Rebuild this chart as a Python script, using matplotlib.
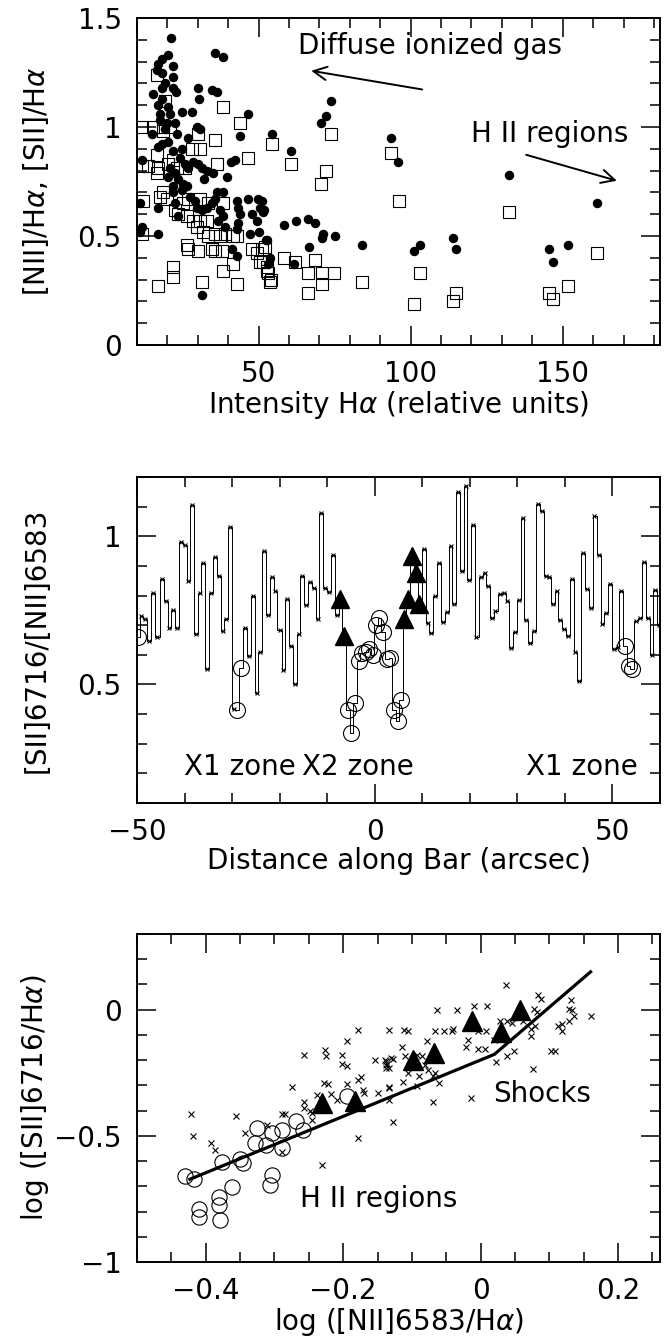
import matplotlib
matplotlib.use("Agg")
import matplotlib.pyplot as plt
from matplotlib.ticker import MultipleLocator, FixedLocator, FuncFormatter

plt.rcParams['font.family'] = ['DejaVu Sans']
plt.rcParams['mathtext.fontset'] = 'dejavusans'

# ---------------- Panel 1 data ----------------
nii_x = [21.2, 35.7, 38.4, 20.3, 18.1, 17.0, 21.9, 16.5, 18.2, 21.8,
         19.2, 18.1, 21.9, 22.8, 15.4, 18.2, 30.2, 30.3, 34.6, 36.4,
         17.0, 20.3, 17.6, 20.9, 24.7, 28.0, 46.6,
         17.6, 19.8, 22.5, 19.2, 23.0, 14.8, 29.6, 30.7, 43.9, 54.3, 26.9,
         20.3, 18.1, 17.0, 21.9, 24.7, 11.5,
         24.1, 25.8, 26.9, 28.5, 30.2, 31.3, 32.9, 34.9, 39.5, 40.8, 42.2, 32.0,
         20.9, 22.5, 20.3, 23.6, 25.2, 21.9, 24.7, 26.3,
         11.0, 17.0, 21.9, 22.5, 23.6,
         27.4, 29.1, 29.8, 31.3, 32.9, 34.6, 35.7, 36.2, 38.4,
         37.3, 38.2, 36.7, 38.9,
         42.8, 43.3, 43.9, 43.3, 42.8,
         46.6, 49.9, 50.5, 47.7, 49.6, 51.5,
         47.2, 50.2, 52.7,
         11.5, 11.0, 17.0,
         41.1, 42.8, 53.8, 53.2, 31.3,
         73.8, 72.1, 70.4, 60.5, 93.4, 95.7, 132.2, 161.4,
         51.0, 51.8, 58.5, 62.3, 66.2, 68.6, 71.1, 70.8, 75.1, 66.6, 84.1, 52.4, 61.6,
         103.1, 101.1, 114.0, 114.8, 145.6, 146.9, 151.8]
nii_y = [1.41, 1.34, 1.32, 1.33, 1.31, 1.29, 1.28, 1.26, 1.25, 1.23,
         1.20, 1.18, 1.18, 1.16, 1.15, 1.13, 1.18, 1.13, 1.17, 1.16,
         1.10, 1.09, 1.06, 1.06, 1.07, 1.07, 1.06,
         1.03, 1.02, 1.02, 0.99, 0.97, 0.97, 1.00, 0.99, 0.96, 0.97, 0.95,
         0.93, 0.92, 0.91, 0.89, 0.90, 0.85,
         0.86, 0.83, 0.81, 0.84, 0.83, 0.81, 0.80, 0.79, 0.77, 0.84, 0.85, 0.76,
         0.81, 0.79, 0.77, 0.76, 0.74, 0.73, 0.71, 0.73,
         0.65, 0.63, 0.70, 0.65, 0.59,
         0.68, 0.66, 0.63, 0.62, 0.63, 0.65, 0.67, 0.70, 0.70,
         0.62, 0.59, 0.57, 0.54,
         0.66, 0.63, 0.60, 0.56, 0.53,
         0.67, 0.67, 0.63, 0.60, 0.57, 0.61,
         0.51, 0.52, 0.48,
         0.54, 0.52, 0.51,
         0.44, 0.41, 0.40, 0.37, 0.23,
         1.12, 1.05, 1.02, 0.89, 0.95, 0.84, 0.78, 0.65,
         0.66, 0.62, 0.55, 0.57, 0.58, 0.56, 0.51, 0.49, 0.50, 0.45, 0.46, 0.48, 0.37,
         0.46, 0.43, 0.49, 0.44, 0.44, 0.38, 0.46]

sii_x = [16.5, 38.2, 43.9, 19.2, 11.5, 15.4, 18.7, 20.9, 18.7, 35.7, 30.2, 28.0, 30.7, 46.6, 36.2,
         16.5, 13.7, 17.0, 16.5, 21.9, 20.3, 23.0, 25.8, 11.5,
         18.7, 17.6, 12.1, 19.8,
         22.5, 23.6, 25.2, 26.9, 30.7, 33.5, 38.4,
         26.3, 28.5, 30.7, 32.9, 29.6, 31.8, 33.5, 35.7, 37.3, 38.9,
         26.3, 26.9, 30.2, 34.6, 35.7, 37.8,
         41.6, 42.8, 41.6, 38.4,
         47.7, 49.4, 51.0, 50.5, 52.7, 53.2, 54.0,
         21.9, 21.9, 17.0, 31.5, 43.0, 11.5,
         73.8, 54.3, 60.5, 72.1, 70.4, 93.4, 96.0, 132.2, 161.4,
         58.5, 62.0, 68.6, 66.4, 70.9, 74.9, 70.9, 66.2, 84.1, 103.1, 101.1, 114.8, 114.0,
         145.6, 146.9, 151.8,
         52.0, 51.4, 52.7, 53.8]
sii_y = [1.24, 1.09, 1.02, 1.12, 1.00, 1.00, 1.00, 1.00, 0.98, 0.94, 0.97, 0.90, 0.90, 0.86, 0.83,
         0.87, 0.82, 0.81, 0.79, 0.85, 0.83, 0.81, 0.81, 0.82,
         0.70, 0.68, 0.66, 0.67,
         0.62, 0.60, 0.65, 0.67, 0.67, 0.65, 0.65,
         0.59, 0.57, 0.57, 0.57, 0.54, 0.52, 0.50, 0.51, 0.50, 0.51,
         0.46, 0.44, 0.43, 0.44, 0.43, 0.43,
         0.50, 0.50, 0.37, 0.34,
         0.44, 0.42, 0.44, 0.38, 0.36, 0.33, 0.30,
         0.36, 0.31, 0.27, 0.29, 0.28, 0.51,
         0.97, 0.92, 0.83, 0.80, 0.74, 0.88, 0.66, 0.61, 0.42,
         0.40, 0.38, 0.39, 0.33, 0.33, 0.33, 0.28, 0.24, 0.29, 0.33, 0.19, 0.24, 0.20,
         0.24, 0.21, 0.27,
         0.45, 0.38, 0.34, 0.29]

# ---------------- Panel 2 data ----------------
bar_dist = [-49.8, -49.1, -48.3, -47.5, -46.6, -45.7, -44.8, -43.9, -43.2, -42.4,
            -41.5, -40.8, -39.9, -39.2, -38.4, -37.6, -36.8, -36.1, -35.3, -34.5,
            -33.6, -32.7, -32.0, -31.2, -30.4, -29.7, -28.9, -28.1, -27.2, -26.4,
            -25.6, -24.8, -24.1, -23.3, -22.5, -21.6, -20.9, -20.0, -19.2, -18.4,
            -17.6, -16.7, -16.0, -15.3, -14.4, -13.6, -12.7, -12.0, -11.3, -10.4,
            -9.7, -8.8, -8.0, -7.2, -6.5, -5.7, -4.9, -4.2, -3.4, -2.6,
            -1.9, -1.1, -0.4, 0.3, 1.0, 1.7, 2.5, 3.3, 4.1, 4.8,
            5.5, 6.2, 7.0, 7.8, 8.6, 9.4, 10.4, 11.1, 11.9, 12.7,
            13.5, 14.4, 15.1, 16.0, 16.7, 17.5, 18.3, 19.1, 19.8, 20.7,
            21.4, 22.3, 23.1, 23.9, 24.7, 25.4, 26.3, 27.2, 27.9, 28.7,
            29.5, 30.3, 31.1, 31.9, 32.7, 33.6, 34.4, 35.2, 36.0, 36.7,
            37.5, 38.3, 39.0, 39.9, 40.6, 41.5, 42.2, 43.0, 43.9, 44.6,
            45.5, 46.2, 47.1, 47.9, 48.7, 49.5, 50.4, 51.1, 51.8, 52.7,
            53.4, 54.1, 55.0, 55.8, 56.6, 57.4, 58.3, 58.9, 59.7]
bar_ratio = [0.66, 0.73, 0.72, 0.646, 0.81, 0.66, 0.855, 0.78, 0.69, 0.75,
             0.69, 0.98, 0.97, 0.85, 1.106, 0.67, 0.81, 0.91, 0.553, 0.81,
             0.93, 0.866, 0.68, 0.72, 1.03, 0.418, 0.413, 0.556, 0.69, 0.596,
             0.80, 0.47, 0.61, 0.95, 0.733, 0.864, 0.815, 0.684, 0.55, 0.79,
             0.63, 0.50, 0.67, 0.866, 0.767, 0.846, 0.827, 0.72, 1.078, 0.825,
             0.812, 0.937, 0.736, 0.787, 0.663, 0.413, 0.337, 0.438, 0.58, 0.607,
             0.61, 0.618, 0.60, 0.70, 0.725, 0.677, 0.585, 0.59, 0.413, 0.378,
             0.447, 0.72, 0.79, 0.934, 0.877, 0.77, 0.956, 0.708, 0.672, 0.80,
             0.909, 0.71, 0.744, 0.967, 0.77, 1.15, 0.883, 1.168, 0.852, 1.037,
             0.661, 0.864, 0.875, 0.832, 0.725, 0.748, 0.804, 0.807, 0.78, 0.624,
             0.677, 0.784, 1.063, 0.716, 0.639, 0.68, 1.108, 1.086, 0.866, 0.864,
             0.77, 0.815, 0.717, 0.688, 0.663, 0.857, 0.609, 0.511, 0.945, 0.821,
             0.759, 1.07, 0.936, 0.703, 0.74, 0.838, 0.62, 0.625, 0.815, 0.63,
             0.562, 0.553, 0.714, 0.725, 0.913, 0.725, 0.60, 0.82, 0.70]
bar_class = (['HII'] + ['X'] * 25 + ['HII', 'HII'] + ['X'] * 25 + ['shock'] * 2 +
             ['HII'] * 16 + ['shock'] * 5 + ['X'] * 53 + ['HII'] * 3 + ['X'] * 7)

# ---------------- Panel 3 data ----------------
all_n2 = [-0.422, -0.418, -0.393, -0.386, -0.356, -0.343, -0.311, -0.289, -0.289, -0.284,
          -0.275, -0.257, -0.257, -0.257, -0.248, -0.245, -0.246, -0.238, -0.231, -0.226,
          -0.225, -0.228, -0.222, -0.217, -0.209, -0.202, -0.201, -0.195, -0.195, -0.179,
          -0.195, -0.179, -0.174, -0.179, -0.171, -0.169, -0.154, -0.149, -0.139, -0.137,
          -0.137, -0.133, -0.128, -0.133, -0.128, -0.133,
          0.037, 0.084, 0.088, 0.132, 0.128, 0.133, 0.136, 0.128, 0.118, 0.113,
          0.118, 0.160, 0.103, 0.108, 0.076, 0.074, 0.074, 0.079, 0.077, 0.082,
          0.062, 0.045, 0.038, 0.028, 0.048, 0.038, 0.022, 0.009, -0.010, -0.035,
          -0.063, 0.019, 0.008, 0.006, -0.004, -0.004, -0.019, -0.021, -0.042, -0.040,
          -0.053, -0.066, -0.105, -0.112, -0.078, -0.115, -0.110, -0.137, -0.136, -0.133,
          -0.130, -0.093, -0.086, -0.081, -0.076, -0.066, -0.061, -0.069, -0.105, -0.089,
          -0.113, -0.093, -0.134, -0.069, -0.014]
all_s2 = [-0.413, -0.499, -0.529, -0.556, -0.423, -0.487, -0.456, -0.566, -0.414, -0.414,
          -0.308, -0.179, -0.366, -0.390, -0.403, -0.410, -0.437, -0.337, -0.615, -0.161,
          -0.185, -0.291, -0.294, -0.333, -0.357, -0.179, -0.214, -0.222, -0.123, -0.079,
          -0.294, -0.278, -0.267, -0.509, -0.317, -0.331, -0.198, -0.331, -0.198, -0.218,
          -0.232, -0.079, -0.196, -0.311, -0.446, -0.357,
          0.096, 0.060, 0.044, 0.037, 0.004, 0.000, -0.024, -0.046, -0.055, -0.063,
          -0.086, -0.026, -0.163, -0.163, -0.234, -0.077, -0.106, -0.063, 0.003, -0.011,
          -0.046, -0.052, -0.046, -0.046, -0.163, -0.185, -0.208, 0.016, 0.013, 0.000,
          -0.002, -0.119, -0.086, -0.156, -0.156, -0.086, -0.119, -0.146, -0.083, -0.077,
          -0.086, -0.086, -0.086, -0.079, -0.126, -0.146, -0.183, -0.204, -0.214, -0.231,
          -0.192, -0.179, -0.185, -0.218, -0.238, -0.251, -0.291, -0.262, -0.251, -0.262,
          -0.285, -0.304, -0.308, -0.366, -0.351]

hii_n2 = [-0.430, -0.417, -0.410, -0.410, -0.381, -0.381, -0.379, -0.362, -0.377, -0.350,
          -0.346, -0.328, -0.326, -0.312, -0.304, -0.289, -0.289, -0.304, -0.306, -0.268,
          -0.259, -0.195]
hii_s2 = [-0.661, -0.672, -0.791, -0.823, -0.741, -0.774, -0.833, -0.704, -0.602, -0.593,
          -0.606, -0.529, -0.470, -0.536, -0.489, -0.476, -0.549, -0.655, -0.694, -0.443,
          -0.476, -0.344]

shock_n2 = [-0.231, -0.183, -0.099, -0.068, -0.013, 0.030, 0.0575]
shock_s2 = [-0.370, -0.360, -0.201, -0.172, -0.044, -0.090, -0.003]

limit_n2 = [-0.423, 0.020, 0.160]
limit_s2 = [-0.672, -0.177, 0.150]

# ---------------- Figure ----------------
W, H = 666, 1344
fig = plt.figure(figsize=(W / 100, H / 100), dpi=100)

def axes_px(left, top, right, bottom):
    return fig.add_axes([left / W, 1 - bottom / H, (right - left) / W, (bottom - top) / H])

ax1 = axes_px(137, 18, 660, 345)
ax2 = axes_px(137, 477, 660, 803)
ax3 = axes_px(137, 934, 660, 1262)

FS = 20
fmt = FuncFormatter(lambda v, p: ('%g' % round(v, 3)).replace('-', '\u2212'))

def style(ax):
    for s in ax.spines.values():
        s.set_linewidth(1.4)
    ax.tick_params(which='both', direction='in', top=True, right=True,
                   labelsize=FS, width=1.1)
    ax.tick_params(which='major', length=14)
    ax.tick_params(which='minor', length=7.5)
    ax.tick_params(axis='x', pad=11)
    ax.tick_params(axis='y', pad=11)
    ax.xaxis.set_major_formatter(fmt)
    ax.yaxis.set_major_formatter(fmt)

# Panel 1
ax1.plot(sii_x, sii_y, 's', ms=8.4, mfc='none', mec='k', mew=0.8, ls='none')
ax1.plot(nii_x, nii_y, 'o', ms=5.8, mfc='k', mec='k', ls='none')
ax1.set_xlim(10, 182)
ax1.set_ylim(0, 1.5)
ax1.xaxis.set_major_locator(FixedLocator([50, 100, 150]))
ax1.xaxis.set_minor_locator(MultipleLocator(10))
ax1.yaxis.set_major_locator(MultipleLocator(0.5))
ax1.yaxis.set_minor_locator(MultipleLocator(0.1))
style(ax1)
ax1.set_xlabel(r'Intensity H$\alpha$ (relative units)', fontsize=FS)
ax1.set_ylabel(r'[NII]/H$\alpha$, [SII]/H$\alpha$', fontsize=FS)
ax1.text(63, 1.37, 'Diffuse ionized gas', fontsize=FS, va='center', ha='left')
ax1.annotate('', xy=(66.4, 1.26), xytext=(104.7, 1.17),
             arrowprops=dict(arrowstyle='->', lw=1.4, color='k', mutation_scale=24))
ax1.text(120, 0.97, 'H II regions', fontsize=FS, va='center', ha='left')
ax1.annotate('', xy=(168.7, 0.75), xytext=(137.1, 0.876),
             arrowprops=dict(arrowstyle='->', lw=1.4, color='k', mutation_scale=24))

# Panel 2
ax2.plot(bar_dist, bar_ratio, drawstyle='steps-mid', color='k', lw=0.7)
dx = [d for d, c in zip(bar_dist, bar_class) if c == 'X']
dy = [r for r, c in zip(bar_ratio, bar_class) if c == 'X']
hx = [d for d, c in zip(bar_dist, bar_class) if c == 'HII']
hy = [r for r, c in zip(bar_ratio, bar_class) if c == 'HII']
sx = [d for d, c in zip(bar_dist, bar_class) if c == 'shock']
sy = [r for r, c in zip(bar_ratio, bar_class) if c == 'shock']
ax2.plot(dx, dy, 'x', ms=3.5, mew=0.8, color='k', ls='none')
ax2.plot(hx, hy, 'o', ms=11.5, mfc='none', mec='k', mew=0.8, ls='none')
ax2.plot(sx, sy, '^', ms=13, mfc='k', mec='k', ls='none')
ax2.set_xlim(-50, 60)
ax2.set_ylim(0.1, 1.2)
ax2.xaxis.set_major_locator(MultipleLocator(50))
ax2.xaxis.set_minor_locator(MultipleLocator(10))
ax2.yaxis.set_major_locator(FixedLocator([0.5, 1.0]))
ax2.yaxis.set_minor_locator(MultipleLocator(0.1))
style(ax2)
ax2.set_xlabel('Distance along Bar (arcsec)', fontsize=FS)
ax2.set_ylabel('[SII]6716/[NII]6583', fontsize=FS)
ax2.text(-28.4, 0.22, 'X1 zone', fontsize=FS, ha='center', va='center')
ax2.text(-3.5, 0.22, 'X2 zone', fontsize=FS, ha='center', va='center')
ax2.text(43.6, 0.22, 'X1 zone', fontsize=FS, ha='center', va='center')

# Panel 3
ax3.plot(all_n2, all_s2, 'x', ms=3.8, mew=0.8, color='k', ls='none')
ax3.plot(hii_n2, hii_s2, 'o', ms=11, mfc='none', mec='k', mew=0.8, ls='none')
ax3.plot(shock_n2, shock_s2, '^', ms=14, mfc='k', mec='k', ls='none')
ax3.plot(limit_n2, limit_s2, '-', color='k', lw=2.3, solid_joinstyle='miter')
ax3.set_xlim(-0.5, 0.261)
ax3.set_ylim(-1, 0.3)
ax3.xaxis.set_major_locator(MultipleLocator(0.2))
ax3.xaxis.set_minor_locator(MultipleLocator(0.05))
ax3.yaxis.set_major_locator(MultipleLocator(0.5))
ax3.yaxis.set_minor_locator(MultipleLocator(0.1))
style(ax3)
ax3.set_xlabel(r'log ([NII]6583/H$\alpha$)', fontsize=FS)
ax3.set_ylabel(r'log ([SII]6716/H$\alpha$)', fontsize=FS)
ax3.text(0.018, -0.335, 'Shocks', fontsize=FS, ha='left', va='center')
ax3.text(-0.263, -0.75, 'H II regions', fontsize=FS, ha='left', va='center')

for ax in (ax1, ax2, ax3):
    ax.yaxis.set_label_coords(-0.165, 0.5)
    ax.xaxis.set_label_coords(0.5, -0.135)

fig.savefig('out.png', dpi=100)
